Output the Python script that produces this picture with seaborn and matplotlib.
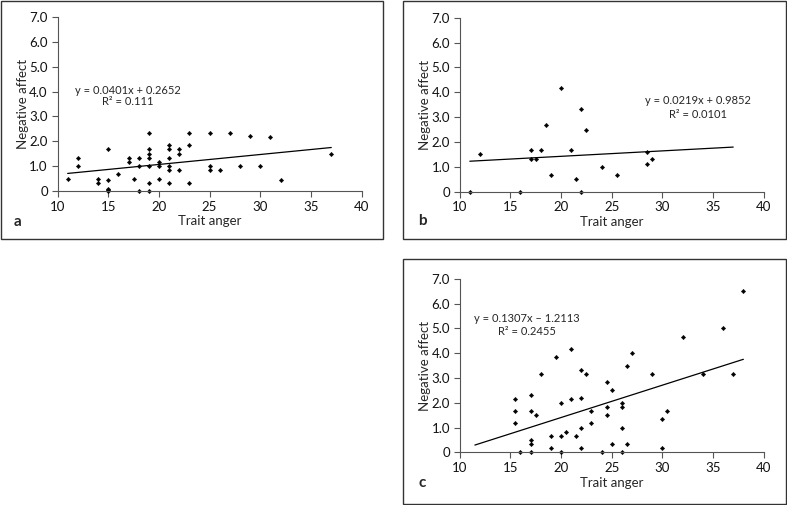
import matplotlib
matplotlib.use("Agg")
import matplotlib.pyplot as plt
import seaborn as sns
import pandas as pd
from matplotlib.patches import Rectangle

# panel a
a_x = [11, 12, 12, 14, 14, 15, 15, 15, 15, 15, 16, 17, 17, 17.5, 18, 18, 18,
       19, 19, 19, 19, 19, 19, 19, 20, 20, 20, 21, 21, 21, 21, 21, 21, 22, 22, 22,
       23, 23, 23, 25, 25, 25, 26, 27, 28, 29, 30, 31, 32, 37]
a_y = [0.5, 1.33, 1.0, 0.5, 0.33, 1.67, 0.43, 0.1, 0.05, 0, 0.67, 1.33, 1.17, 0.5,
       1.33, 1.0, 0, 2.33, 1.67, 1.5, 1.33, 1.0, 0.33, 0, 1.17, 1.0, 0.5,
       1.83, 1.67, 1.33, 1.0, 0.83, 0.33, 1.67, 1.5, 0.83, 2.33, 1.83, 0.33,
       2.33, 1.0, 0.83, 0.83, 2.33, 1.0, 2.2, 1.0, 2.17, 0.43, 1.5]

# panel b
b_x = [11, 12, 16, 17, 17, 17.5, 18, 18.5, 19, 20, 21, 21.5, 22, 22, 22.5,
       24, 25.5, 28.5, 28.5, 29]
b_y = [0, 1.5, 0, 1.67, 1.33, 1.33, 1.67, 2.67, 0.67, 4.17, 1.67, 0.5, 3.33, 0,
       2.5, 1.0, 0.67, 1.6, 1.1, 1.33]

# panel c
c_x = [15.5, 15.5, 15.5, 16, 17, 17, 17, 17, 17, 17.5, 18, 19, 19, 19.5, 20, 20,
       20, 20.5, 21, 21, 21.5, 22, 22, 22, 22, 22.5, 23, 23, 24, 24.5, 24.5, 24.5,
       25, 25, 26, 26, 26, 26, 26.5, 26.5, 27, 29, 30, 30, 30.5, 32, 34, 36, 37, 38]
c_y = [2.17, 1.67, 1.17, 0, 2.33, 1.67, 0.5, 0.33, 0, 1.5, 3.17, 0.67, 0.17, 3.83,
       2.0, 0.67, 0, 0.83, 4.17, 2.17, 0.67, 3.33, 2.2, 1.0, 0.17, 3.17, 1.67, 1.17,
       0, 2.83, 1.83, 1.5, 2.5, 0.33, 2.0, 1.83, 1.0, 0, 3.5, 0.33, 4.0, 3.17, 1.33,
       0.17, 1.67, 4.67, 3.17, 5.0, 3.17, 6.5]

# trend lines: slope, intercept, x range
fits = {
    "a": (0.0401, 0.2652, [11, 37]),
    "b": (0.0219, 0.9852, [11, 37]),
    "c": (0.1307, -1.2113, [11.5, 38]),
}
eq_text = {
    "a": ("y = 0.0401x + 0.2652", "R\u00b2 = 0.111"),
    "b": ("y = 0.0219x + 0.9852", "R\u00b2 = 0.0101"),
    "c": ("y = 0.1307x \u2013 1.2113", "R\u00b2 = 0.2455"),
}
eq_pos = {"a": (16.95, 4.03, 3.59), "b": (33.55, 3.66, 3.11), "c": (16.6, 5.41, 4.87)}

x_ticks = [10, 15, 20, 25, 30, 35, 40]
y_ticks = [0, 1, 2, 3, 4, 5, 6, 7]
y_labels = ["0", "1.0", "2.0", "3.0", "4.0", "5.0", "6.0", "7.0"]

sns.set_style("ticks")
plt.rcParams["font.family"] = ["Lato", "DejaVu Sans"]

fig = plt.figure(figsize=(7.87, 5.05), dpi=100)

axes_pos = {
    "a": [0.0731, 0.6218, 0.3865, 0.3446],
    "b": [0.5841, 0.6204, 0.3862, 0.3445],
    "c": [0.5841, 0.1044, 0.3862, 0.3432],
}
frames = {
    "a": (0.0013, 0.5261, 0.4858, 0.4719),
    "b": (0.5125, 0.5261, 0.4859, 0.4719),
    "c": (0.5125, 0.0020, 0.4859, 0.4857),
}
label_pos = {"a": (0.022, 0.561), "b": (0.537, 0.563), "c": (0.537, 0.043)}
data = {"a": (a_x, a_y), "b": (b_x, b_y), "c": (c_x, c_y)}

for key in ["a", "b", "c"]:
    fig.patches.append(Rectangle(frames[key][:2], frames[key][2], frames[key][3],
                                 transform=fig.transFigure, fill=False,
                                 edgecolor="#333333", linewidth=1.0))
    ax = fig.add_axes(axes_pos[key])
    ax.patch.set_alpha(0)
    xs, ys = data[key]
    df = pd.DataFrame({"x": xs, "y": ys})
    sns.scatterplot(data=df, x="x", y="y", ax=ax, marker="D", s=5,
                    color="black", edgecolor="black", linewidth=0.3, clip_on=False)
    slope, icpt, xr = fits[key]
    line = pd.DataFrame({"x": xr, "y": [slope * v + icpt for v in xr]})
    sns.lineplot(data=line, x="x", y="y", ax=ax, color="black", linewidth=0.9)

    ax.set_xlim(10, 40)
    ax.set_ylim(0, 7)
    ax.set_xticks(x_ticks)
    ax.set_xticklabels([str(t) for t in x_ticks])
    ax.set_yticks(y_ticks)
    ax.set_yticklabels(y_labels)
    ax.tick_params(direction="out", length=4.5, width=0.8, color="#555555",
                   labelsize=9.5, labelcolor="#111111", pad=2.5)
    for side in ["top", "right"]:
        ax.spines[side].set_visible(False)
    for side in ["left", "bottom"]:
        ax.spines[side].set_color("#555555")
        ax.spines[side].set_linewidth(0.8)
    ax.set_xlabel("Trait anger", fontsize=9.5, labelpad=2)
    ax.set_ylabel("Negative affect", fontsize=9.5, labelpad=0)

    ex, ey1, ey2 = eq_pos[key]
    ax.text(ex, ey1, eq_text[key][0], ha="center", va="center", fontsize=8)
    ax.text(ex, ey2, eq_text[key][1], ha="center", va="center", fontsize=8)

    fig.text(label_pos[key][0], label_pos[key][1], key, fontsize=11,
             fontweight="bold", ha="center", va="center")

fig.savefig("out.png", dpi=100)
